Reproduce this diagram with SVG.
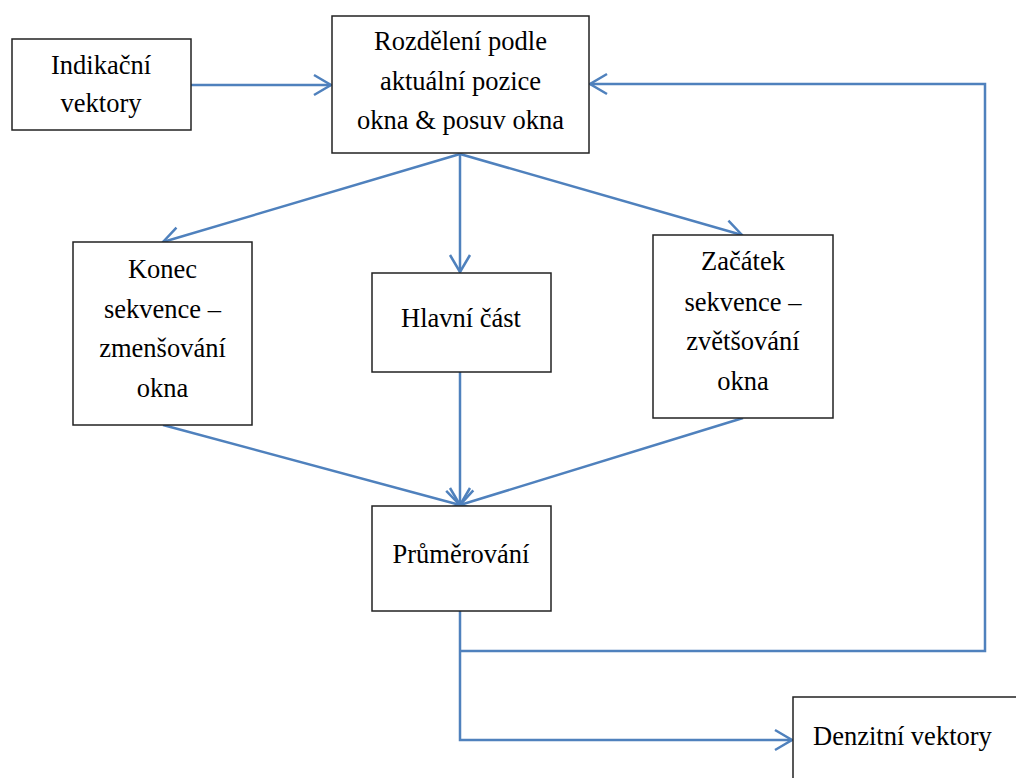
<svg xmlns="http://www.w3.org/2000/svg" width="1016" height="778" viewBox="0 0 1016 778">
<style>
.box{fill:#fff;stroke:#222;stroke-width:1.5}
.t{font-family:"Liberation Serif","Times New Roman",serif;font-size:26.5px;fill:#000;text-anchor:middle}
.c{fill:none;stroke:#4F81BD;stroke-width:2.5}
.a{marker-end:url(#arr)}
</style>
<defs>
<marker id="arr" markerUnits="userSpaceOnUse" markerWidth="30" markerHeight="30" viewBox="-20 -15 30 30" refX="0" refY="0" orient="auto">
<path d="M-17,-10 L0,0 L-17,10" fill="none" stroke="#4F81BD" stroke-width="2.5"/>
</marker>
</defs>
<rect width="1016" height="778" fill="#fff"/>
<g id="connectors">
<line class="c a" x1="191" y1="85" x2="331" y2="85"/>
<line class="c a" x1="460" y1="154" x2="163" y2="242"/>
<line class="c a" x1="460" y1="154" x2="460" y2="272"/>
<line class="c a" x1="460" y1="154" x2="742" y2="235"/>
<line class="c a" x1="163" y1="425" x2="460" y2="505"/>
<line class="c a" x1="460" y1="372" x2="460" y2="505"/>
<line class="c a" x1="743" y1="418" x2="460" y2="505"/>
<polyline class="c a" points="460,611 460,740 792,740"/>
<polyline class="c a" points="460,651 985,651 985,84 590,84"/>
</g>
<g id="indikacni">
<rect class="box" x="12" y="39" width="179" height="91"/>
<text class="t" x="101" y="74">Indikační</text>
<text class="t" x="101" y="112">vektory</text>
</g>
<g id="rozdeleni">
<rect class="box" x="332" y="16" width="257" height="137"/>
<text class="t" x="460.5" y="50">Rozdělení podle</text>
<text class="t" x="460.5" y="90">aktuální pozice</text>
<text class="t" x="460.5" y="129">okna &amp; posuv okna</text>
</g>
<g id="konec">
<rect class="box" x="73" y="242" width="179" height="183"/>
<text class="t" x="162.5" y="278">Konec</text>
<text class="t" x="162.5" y="318">sekvence –</text>
<text class="t" x="162.5" y="357">zmenšování</text>
<text class="t" x="162.5" y="397">okna</text>
</g>
<g id="hlavni">
<rect class="box" x="372" y="273" width="179" height="99"/>
<text class="t" x="461" y="327">Hlavní část</text>
</g>
<g id="zacatek">
<rect class="box" x="653" y="235" width="180" height="183"/>
<text class="t" x="743" y="270">Začátek</text>
<text class="t" x="743" y="311">sekvence –</text>
<text class="t" x="743" y="350">zvětšování</text>
<text class="t" x="743" y="390">okna</text>
</g>
<g id="prumerovani">
<rect class="box" x="372" y="506" width="179" height="105"/>
<text class="t" x="461" y="563">Průměrování</text>
</g>
<g id="denzitni">
<rect class="box" x="793" y="697" width="240" height="100"/>
<text class="t" x="813" y="745" style="text-anchor:start">Denzitní vektory</text>
</g>
</svg>
